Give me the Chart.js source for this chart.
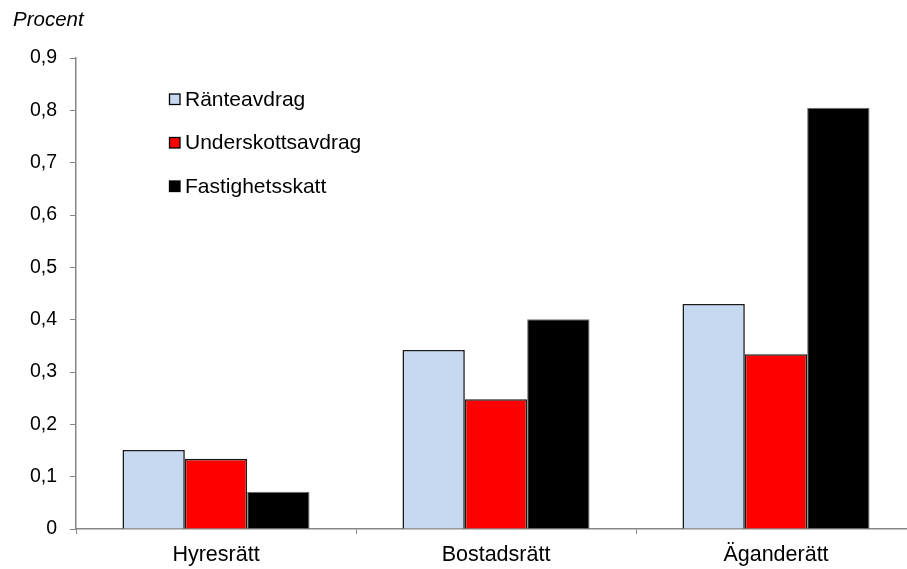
<!DOCTYPE html>
<html lang="sv">
<head>
<meta charset="utf-8">
<title>Ränteavdrag, underskottsavdrag och fastighetsskatt</title>
<script src="https://cdn.jsdelivr.net/npm/chart.js@4.4.1/dist/chart.umd.min.js"></script>
<style>
  html, body { margin: 0; padding: 0; background: #fff; overflow: hidden; }
  #wrap { position: relative; width: 916px; height: 569px; }
</style>
</head>
<body>
<div id="wrap"><canvas id="c" width="916" height="569"></canvas></div>
<script>
// Upplåtelseformer och värden (procent)
const categories = ['Hyresrätt', 'Bostadsrätt', 'Äganderätt'];
const ranteavdrag = [0.151, 0.342, 0.430];
const underskottsavdrag = [0.134, 0.248, 0.334];
const fastighetsskatt = [0.071, 0.401, 0.805];
const seriesNames = ['Ränteavdrag', 'Underskottsavdrag', 'Fastighetsskatt'];
const yTicks = [0, 0.1, 0.2, 0.3, 0.4, 0.5, 0.6, 0.7, 0.8, 0.9];
const yAxisTitle = 'Procent';

const FONT = '"Liberation Sans", Arial, sans-serif';
const axisGray = '#868686';

// Legend drawn inside the plot area, stacked vertically at the upper left
const innerLegend = {
  id: 'innerLegend',
  afterDraw(chart) {
    const ctx = chart.ctx;
    ctx.save();
    ctx.font = '21px ' + FONT;
    ctx.textBaseline = 'middle';
    const rows = [99, 142.5, 186];
    chart.data.datasets.forEach((ds, i) => {
      const y = rows[i];
      ctx.fillStyle = ds.backgroundColor;
      ctx.fillRect(169.5, y - 5, 10.5, 10.5);
      ctx.strokeStyle = '#000';
      ctx.lineWidth = 1.3;
      ctx.strokeRect(169.5, y - 5, 10.5, 10.5);
      ctx.fillStyle = '#000';
      ctx.textAlign = 'left';
      ctx.fillText(ds.label, 185, y + 1);
    });
    // axis caption
    ctx.font = 'italic 20.5px ' + FONT;
    ctx.fillText(yAxisTitle, 13, 20);
    ctx.restore();
  }
};

new Chart(document.getElementById('c'), {
  type: 'bar',
  data: {
    labels: categories,
    datasets: [
      { label: seriesNames[0], data: ranteavdrag, backgroundColor: '#C6D9F1', borderColor: '#1a1a1a', borderWidth: 1.6 },
      { label: seriesNames[1], data: underskottsavdrag, backgroundColor: '#FF0000', borderColor: '#1a1a1a', borderWidth: 1.6 },
      { label: seriesNames[2], data: fastighetsskatt, backgroundColor: '#000000', borderColor: '#6e6e6e', borderWidth: 1 }
    ]
  },
  options: {
    responsive: false,
    animation: false,
    devicePixelRatio: 1,
    layout: { padding: { top: 58, right: 0, left: 0, bottom: 0 } },
    datasets: { bar: { categoryPercentage: 0.668, barPercentage: 1.0 } },
    plugins: {
      legend: { display: false },
      tooltip: { enabled: false },
      title: { display: false }
    },
    scales: {
      x: {
        offset: true,
        afterFit(scale) { scale.height = 40; },
        grid: { display: true, drawOnChartArea: false, drawTicks: true, tickLength: 5, offset: true, color: axisGray, lineWidth: 1 },
        border: { display: true, color: axisGray, width: 1.5 },
        ticks: { color: '#000', font: { family: FONT, size: 21.5 }, padding: 8, maxRotation: 0 }
      },
      y: {
        min: 0,
        max: 0.9,
        afterFit(scale) { scale.width = 76; },
        afterBuildTicks(scale) { scale.ticks = yTicks.map(v => ({ value: v })); },
        grid: { display: true, drawOnChartArea: false, drawTicks: true, tickLength: 6, color: axisGray, lineWidth: 1 },
        border: { display: true, color: axisGray, width: 1.5 },
        ticks: {
          color: '#000',
          font: { family: FONT, size: 19.5 },
          padding: 13,
          callback(v) { return v === 0 ? '0' : Number(v).toFixed(1).replace('.', ','); }
        }
      }
    }
  },
  plugins: [innerLegend]
});
</script>
</body>
</html>
